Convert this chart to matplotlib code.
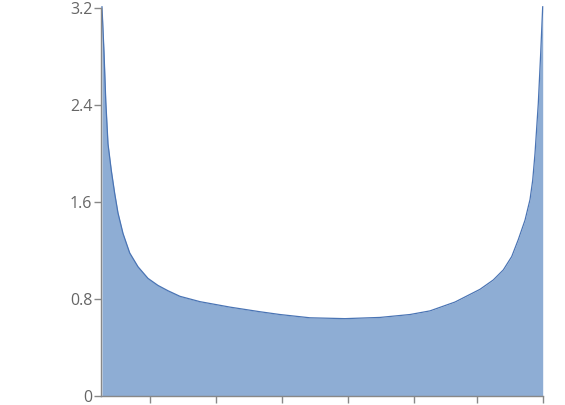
import numpy as np
import matplotlib.pyplot as plt

# curve (x normalised 0..1 across the axis)
x_vals = [0.0029, 0.0075, 0.0115, 0.0165, 0.024, 0.0317, 0.0391, 0.0505,
          0.0656, 0.0844, 0.107, 0.1296, 0.1523, 0.1794, 0.2247, 0.2925,
          0.3602, 0.4055, 0.4733, 0.5527, 0.6319, 0.6998, 0.745, 0.8016,
          0.8582, 0.8882, 0.9109, 0.9299, 0.9448, 0.96, 0.9713, 0.9774,
          0.9826, 0.99, 0.9955, 1.0]
density = [3.21, 2.83, 2.43, 2.08, 1.86, 1.67, 1.51, 1.34,
           1.18, 1.066, 0.97, 0.912, 0.868, 0.822, 0.778, 0.733,
           0.695, 0.672, 0.645, 0.638, 0.648, 0.672, 0.702, 0.775,
           0.88, 0.957, 1.04, 1.15, 1.29, 1.45, 1.62, 1.78,
           2.0, 2.41, 2.83, 3.21]
x_ticks = [0.1115, 0.2609, 0.4104, 0.5597, 0.7092, 0.8510, 1.0]
y_ticks = [0, 0.8, 1.6, 2.4, 3.2]
y_labels = ['0', '0.8', '1.6', '2.4', '3.2']

plt.rcParams['font.family'] = ['Open Sans', 'DejaVu Sans']

fig = plt.figure(figsize=(5.65, 4.05), dpi=100)
ax = fig.add_axes([100.7 / 565, 9 / 405, 442 / 565, 388 / 405])

ax.fill_between(x_vals, density, 0, color='#8eadd4', linewidth=0)
ax.plot(x_vals, density, color='#4a74b4', linewidth=0.9, clip_on=False,
        solid_joinstyle='round')

ax.set_xlim(0, 1)
ax.set_ylim(0, 3.2)
ax.set_xticks(x_ticks)
ax.set_xticklabels([])
ax.set_yticks(y_ticks)
ax.set_yticklabels(y_labels)

for s in ['top', 'right']:
    ax.spines[s].set_visible(False)
for s in ['left', 'bottom']:
    ax.spines[s].set_color('#888888')
    ax.spines[s].set_linewidth(1.0)
ax.tick_params(axis='both', colors='#888888', length=5, width=1.0,
               labelcolor='#666666', labelsize=11.5)
ax.tick_params(axis='y', pad=1)

fig.savefig('out.png', dpi=100)
